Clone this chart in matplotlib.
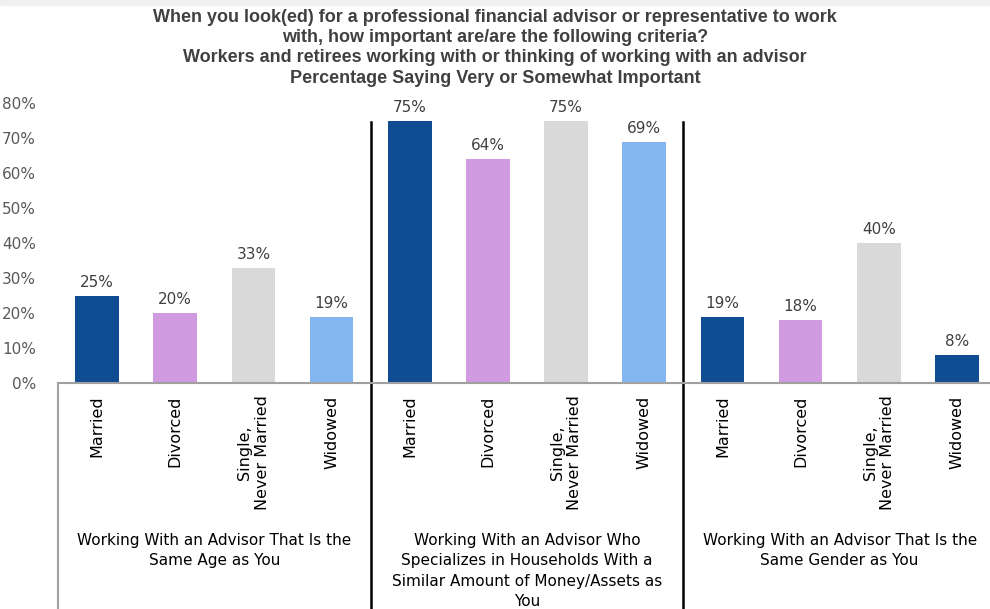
import numpy as np
import matplotlib.pyplot as plt
from matplotlib.patches import Rectangle

# data
statuses = ["Married", "Divorced", "Single,\nNever Married", "Widowed"]
groups = ["Working With an Advisor That Is the\nSame Age as You",
          "Working With an Advisor Who\nSpecializes in Households With a\nSimilar Amount of Money/Assets as\nYou",
          "Working With an Advisor That Is the\nSame Gender as You"]
same_age = [0.25, 0.20, 0.33, 0.19]
same_assets = [0.75, 0.64, 0.75, 0.69]
same_gender = [0.19, 0.18, 0.40, 0.08]
yticks = [0, 0.1, 0.2, 0.3, 0.4, 0.5, 0.6, 0.7, 0.8]

navy = "#0F4C92"
lilac = "#CF9ADF"
grey = "#D9D9D9"
sky = "#83B6EF"
colors = [navy, lilac, grey, sky,
          navy, lilac, grey, sky,
          navy, lilac, grey, navy]

values = same_age + same_assets + same_gender
labels = statuses * 3
x = np.arange(len(values)) + 0.5

plt.rcParams['font.family'] = ['DejaVu Sans']
fig = plt.figure(figsize=(9.9, 6.09), dpi=100)
fig.patches.append(Rectangle((0, 1 - 5/609), 1, 5/609, transform=fig.transFigure,
                             color="#F0F0F0", zorder=0))

W, H = 990, 609
ax = fig.add_axes([58/W, (H-383)/H, (996-58)/W, (383-103)/H])
ax.bar(x, values, width=0.56, color=colors)
for xi, v in zip(x, values):
    ax.annotate(f"{v*100:.0f}%", (xi, v), xytext=(0, 4), textcoords="offset points",
                ha="center", va="bottom", fontsize=11, color="#404040")

ax.set_xlim(0, 12)
ax.set_ylim(0, 0.8)
ax.set_yticks(yticks)
ax.set_yticklabels([f"{t*100:.0f}%" for t in yticks], fontsize=11, color="#595959")
ax.set_xticks(x)
ax.set_xticklabels(labels, rotation=90, va="top", ha="center", fontsize=11.5,
                   color="black", multialignment="center")
ax.tick_params(axis="both", length=0)
ax.tick_params(axis="x", pad=9)
ax.tick_params(axis="y", pad=16)
for s in ["top", "right", "left"]:
    ax.spines[s].set_visible(False)
ax.spines["bottom"].set_color("#A0A0A0")
ax.spines["bottom"].set_linewidth(1.5)

trans = ax.get_xaxis_transform()
ax.plot([0, 0], [0, -0.85], color="#A0A0A0", lw=1.5, transform=trans, clip_on=False)
for sep in [4, 8]:
    ax.plot([sep, sep], [0.932, -0.85], color="black", lw=1.8, transform=trans, clip_on=False)

for i, g in enumerate(groups):
    ax.text(4*i + 2, -0.535, g, transform=trans, ha="center", va="top", fontsize=11,
            color="black", linespacing=1.45, multialignment="center")

fig.text(0.5, 1 - 9/H,
         "When you look(ed) for a professional financial advisor or representative to work\n"
         "with, how important are/are the following criteria?\n"
         "Workers and retirees working with or thinking of working with an advisor\n"
         "Percentage Saying Very or Somewhat Important",
         ha="center", va="top", fontsize=13, fontweight="bold", color="#404040",
         family="Liberation Sans", linespacing=1.25)

fig.savefig("out.png", dpi=100)
